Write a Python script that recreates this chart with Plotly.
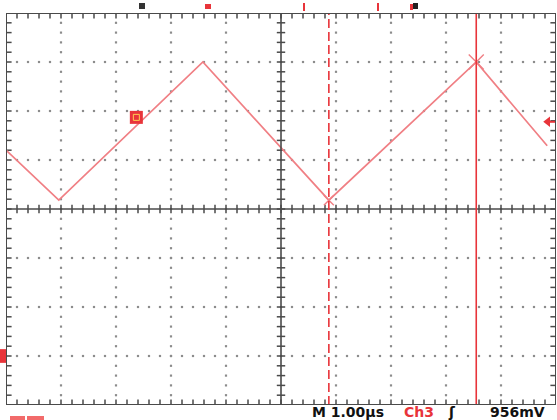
import numpy as np
import plotly.graph_objects as go

# Waveform (x in divisions = µs at 1.00 µs/div, y in divisions)
time_div = [0.0, 0.96, 3.58, 5.87, 8.55, 9.84]
volt_div = [1.20, 0.18, 3.00, 0.18, 3.00, 1.29]

cursor_dashed_x = 5.87
cursor_solid_x = 8.55
cursor_dashed_y = 0.18
cursor_solid_y = 3.00

ch_marker_x = 2.37
ch_marker_y = 1.87
trig_level_y = 1.78
ground_y = -3.0

timebase_label = "M 1.00µs"
channel_label = "Ch3"
slope_label = "ʃ"
trig_label = "956mV"

RED = "#e8343a"
WAVE = "#f07f84"
FRAME = "#4a4a4a"
DOT = "#8c8c8c"

fig = go.Figure()

# dotted graticule
gx, gy = [], []
for xv in [1, 2, 3, 4, 6, 7, 8, 9]:
    for yv in np.arange(-4, 4.01, 0.2):
        gx.append(xv); gy.append(yv)
for yv in [-3, -2, -1, 1, 2, 3]:
    for xv in np.arange(0, 10.01, 0.2):
        gx.append(xv); gy.append(yv)
fig.add_trace(go.Scatter(x=gx, y=gy, mode="markers", hoverinfo="skip",
                         marker=dict(symbol="square", size=2.2, color=DOT)))

# centre axes
fig.add_shape(type="line", x0=0, x1=10, y0=0, y1=0, line=dict(color=FRAME, width=1.6))
fig.add_shape(type="line", x0=5, x1=5, y0=-4, y1=4, line=dict(color=FRAME, width=1.6))
tx = np.arange(0, 10.01, 0.2)
ty = np.arange(-4, 4.01, 0.2)
fig.add_trace(go.Scatter(x=tx, y=[0] * len(tx), mode="markers", hoverinfo="skip",
                         marker=dict(symbol="line-ns", size=6, line=dict(color=FRAME, width=1.5))))
fig.add_trace(go.Scatter(x=[5] * len(ty), y=ty, mode="markers", hoverinfo="skip",
                         marker=dict(symbol="line-ew", size=6, line=dict(color=FRAME, width=1.5))))
# border ticks (half clipped)
fig.add_trace(go.Scatter(x=list(tx) * 2, y=[4] * len(tx) + [-4] * len(tx), mode="markers",
                         hoverinfo="skip", cliponaxis=True,
                         marker=dict(symbol="line-ns", size=8, line=dict(color=FRAME, width=1.5))))
fig.add_trace(go.Scatter(x=[0] * len(ty) + [10] * len(ty), y=list(ty) * 2, mode="markers",
                         hoverinfo="skip", cliponaxis=True,
                         marker=dict(symbol="line-ew", size=8, line=dict(color=FRAME, width=1.5))))

# waveform
fig.add_trace(go.Scatter(x=time_div, y=volt_div, mode="lines", hoverinfo="skip",
                         line=dict(color=WAVE, width=1.7)))

# cursors
fig.add_shape(type="line", x0=cursor_dashed_x, x1=cursor_dashed_x, y0=-4, y1=4,
              line=dict(color=RED, width=1.6, dash="9px,4px"))
fig.add_shape(type="line", x0=cursor_solid_x, x1=cursor_solid_x, y0=-4, y1=4,
              line=dict(color=RED, width=1.6))
fig.add_trace(go.Scatter(x=[cursor_solid_x], y=[cursor_solid_y], mode="markers", hoverinfo="skip",
                         marker=dict(symbol="x-thin", size=15, line=dict(color=WAVE, width=1.4))))
fig.add_trace(go.Scatter(x=[cursor_dashed_x], y=[cursor_dashed_y], mode="markers", hoverinfo="skip",
                         marker=dict(symbol="x-thin", size=10, line=dict(color=WAVE, width=1.4))))

# channel marker square
fig.add_trace(go.Scatter(x=[ch_marker_x], y=[ch_marker_y], mode="markers", hoverinfo="skip",
                         marker=dict(symbol="square", size=13, color=RED)))
fig.add_trace(go.Scatter(x=[ch_marker_x], y=[ch_marker_y], mode="markers", hoverinfo="skip",
                         marker=dict(symbol="square-open", size=6, line=dict(color="#ffb0b0", width=1))))

# trigger level arrow on right
fig.add_trace(go.Scatter(x=[9.82, 9.99], y=[trig_level_y, trig_level_y], mode="lines", hoverinfo="skip",
                         line=dict(color=RED, width=2)))
fig.add_trace(go.Scatter(x=[9.85], y=[trig_level_y], mode="markers", hoverinfo="skip",
                         marker=dict(symbol="triangle-left", size=9, color=RED)))

# frame
fig.add_shape(type="rect", x0=0, x1=10, y0=-4, y1=4, line=dict(color=FRAME, width=2))

# ground marker on the left edge
fig.add_shape(type="rect", xref="paper", x0=-0.012, x1=0.0, y0=ground_y - 0.14, y1=ground_y + 0.14,
              fillcolor=RED, line=dict(width=0))

# top position markers (pixel positions above the plot)
def px2paper(px):
    return (px - 6) / 550.0

def py2paper(py):
    return (405 - py) / 392.0

for (x0, x1, y0, y1, c) in [(139, 145, 3, 9, "#333333"), (205, 211, 4, 9, RED),
                            (303, 305, 3, 11, RED), (377, 379, 3, 11, RED),
                            (410, 413, 4, 10, RED), (413, 418, 3, 9, "#222222")]:
    fig.add_shape(type="rect", xref="paper", yref="paper",
                  x0=px2paper(x0), x1=px2paper(x1), y0=py2paper(y1), y1=py2paper(y0),
                  fillcolor=c, line=dict(width=0))

# bottom-left red tabs
for (x0, x1) in [(10, 25), (27, 44)]:
    fig.add_shape(type="rect", xref="paper", yref="paper",
                  x0=px2paper(x0), x1=px2paper(x1), y0=py2paper(421), y1=py2paper(416),
                  fillcolor="#f26b6b", line=dict(width=0))

# status line
for txt, xp, col in [(timebase_label, 310, "#111111"), (channel_label, 402, RED),
                     (slope_label, 446, "#111111"), (trig_label, 488, "#111111")]:
    fig.add_annotation(text="<b>" + txt + "</b>", xref="paper", yref="paper",
                       x=px2paper(xp), y=py2paper(412), xanchor="left", yanchor="middle",
                       showarrow=False, font=dict(family="DejaVu Sans", size=14, color=col))

fig.update_xaxes(range=[0, 10], showgrid=False, zeroline=False, showticklabels=False,
                 showline=False, fixedrange=True)
fig.update_yaxes(range=[-4, 4], showgrid=False, zeroline=False, showticklabels=False,
                 showline=False, fixedrange=True)
fig.update_layout(width=557, height=420, margin=dict(l=6, r=1, t=13, b=15),
                  paper_bgcolor="white", plot_bgcolor="white", showlegend=False)

fig.write_html("out.html", config={"displayModeBar": False},
               post_script="document.body.style.margin='0';document.body.style.overflow='hidden';")
